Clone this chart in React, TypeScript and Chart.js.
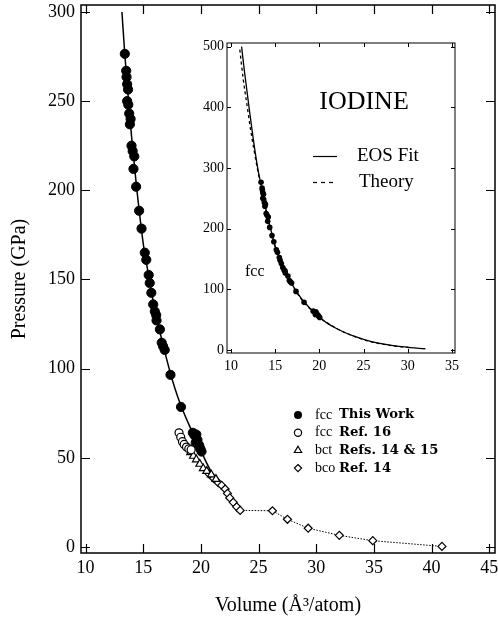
import React, { useEffect, useRef } from 'react';
import { Chart, registerables } from 'chart.js';

Chart.register(...registerables);

const SERIF = '"Liberation Serif", "Times New Roman", serif';
const BOLD_SERIF = '"DejaVu Serif", serif';

// ---- axis ticks ----
const mainXTicks = [10, 15, 20, 25, 30, 35, 40, 45];
const mainYTicks = [0, 50, 100, 150, 200, 250, 300];
const insetXTicks = [10, 15, 20, 25, 30, 35];
const insetYTicks = [0, 100, 200, 300, 400, 500];

// ---- data: [volume (Å^3/atom), pressure (GPa)] ----
const fccThisWork: [number, number][] = [
  [13.4, 276.5], [13.52, 267], [13.55, 263.5], [13.6, 259.5], [13.68, 256.5],
  [13.6, 250], [13.7, 248], [13.78, 243], [13.9, 240], [13.84, 237],
  [13.98, 225], [14.08, 222], [14.22, 219], [14.15, 212], [14.38, 202],
  [14.64, 188.5], [14.85, 178.5], [15.13, 165], [15.26, 161], [15.47, 152.5],
  [15.56, 148], [15.7, 142.5], [15.86, 136], [16.0, 132], [16.12, 130],
  [16.15, 127], [16.44, 122], [16.6, 114.5], [16.72, 112.5], [16.86, 110.5],
  [17.36, 96.5], [18.27, 78.5], [19.3, 64], [19.45, 62.5], [19.6, 63],
  [19.7, 60], [19.55, 58.5], [19.85, 57], [19.95, 55], [20.05, 53.5],
];

const fccRef16: [number, number][] = [
  [18.1, 64], [18.25, 61.5], [18.4, 59], [18.55, 57.5], [18.75, 56], [18.95, 55], [19.15, 54.5],
];

const bctRefs14and15: [number, number][] = [
  [19.1, 53], [19.35, 51], [19.6, 49], [19.9, 46.5], [20.2, 44], [20.5, 42.5], [20.9, 40.5], [21.3, 38],
];

const bcoRef14: [number, number][] = [
  [20.7, 41], [21.1, 38.5], [21.5, 36], [21.8, 34.5], [22.1, 32.5], [22.3, 30], [22.5, 27.5],
  [22.8, 25], [23.1, 22.5], [23.4, 20.5], [26.2, 20.3], [27.5, 15.5], [29.3, 10.5],
  [32.0, 6.5], [34.9, 3.5], [40.9, 0.3],
];

const eosFitMain: [number, number][] = [
  [13.15, 300], [13.4, 276], [13.7, 252], [14.0, 229], [14.4, 203], [15.0, 170],
  [15.5, 151], [16.0, 133], [16.5, 119], [17.0, 106], [17.5, 94], [18.0, 84],
  [18.5, 75.5], [19.0, 68], [19.5, 61], [20.0, 54], [20.5, 47], [21.0, 41],
];

const eosFitInset: [number, number][] = [
  [11.2, 500], [11.5, 462], [12.0, 405], [12.5, 350], [13.0, 302], [13.5, 265],
  [14.0, 229], [14.5, 199], [15.0, 171], [16.0, 133], [17.0, 106], [18.0, 84],
  [19.0, 68], [20.0, 54], [21.0, 43], [22.0, 35], [23.0, 28], [24.0, 22.5],
  [25.0, 17.5], [26.0, 13.5], [27.0, 10.5], [28.0, 8], [29.0, 6], [30.0, 4.5],
  [31.0, 3], [32.0, 2],
];

const theoryInset: [number, number][] = [
  [11.0, 495], [11.4, 445], [11.8, 405], [12.2, 365], [12.6, 330], [13.0, 298],
  [13.5, 262], [14.0, 227], [15.0, 170], [16.0, 132], [17.0, 105], [18.0, 83],
  [19.0, 67], [20.0, 54], [22.0, 35], [24.0, 22], [26.0, 13], [28.0, 7.5], [30.0, 4.2],
];

// ---- legend / labels ----
const legendMarkers = ['filled', 'circle', 'triangle', 'diamond'];
const legendPhases = ['fcc', 'fcc', 'bct', 'bco'];
const legendSources = ['This Work', 'Ref. 16', 'Refs. 14 & 15', 'Ref. 14'];
const insetTitle = 'IODINE';
const insetLegend = ['EOS Fit', 'Theory'];
const insetPhase = 'fcc';

const toPts = (a: [number, number][]) => a.map(([x, y]) => ({ x, y }));

function drawMarker(ctx: CanvasRenderingContext2D, kind: string, x: number, y: number, r: number) {
  ctx.beginPath();
  if (kind === 'filled' || kind === 'circle') {
    ctx.arc(x, y, r, 0, Math.PI * 2);
  } else if (kind === 'triangle') {
    ctx.moveTo(x, y - r);
    ctx.lineTo(x + r * 0.866, y + r * 0.5);
    ctx.lineTo(x - r * 0.866, y + r * 0.5);
    ctx.closePath();
  } else {
    ctx.moveTo(x, y - r);
    ctx.lineTo(x + r, y);
    ctx.lineTo(x, y + r);
    ctx.lineTo(x - r, y);
    ctx.closePath();
  }
  if (kind === 'filled') {
    ctx.fillStyle = '#000';
    ctx.fill();
  } else {
    ctx.fillStyle = '#fff';
    ctx.fill();
    ctx.stroke();
  }
}

function frameTicksPlugin(len: number, frameW: number, tickW: number, bg: boolean) {
  return {
    id: 'frameTicks',
    beforeDatasetsDraw(chart: any) {
      const { ctx, chartArea: a, scales } = chart;
      const xs = scales.x;
      const ys = scales.y;
      ctx.save();
      if (bg) {
        ctx.fillStyle = '#fff';
        ctx.fillRect(a.left, a.top, a.right - a.left, a.bottom - a.top);
      }
      ctx.strokeStyle = '#000';
      ctx.lineWidth = tickW;
      ctx.beginPath();
      xs.ticks.forEach((t: any) => {
        const px = Math.round(xs.getPixelForValue(t.value)) + 0.5;
        ctx.moveTo(px, a.bottom);
        ctx.lineTo(px, a.bottom - len);
        ctx.moveTo(px, a.top);
        ctx.lineTo(px, a.top + len);
      });
      ys.ticks.forEach((t: any) => {
        const py = Math.round(ys.getPixelForValue(t.value)) + 0.5;
        ctx.moveTo(a.left, py);
        ctx.lineTo(a.left + len, py);
        ctx.moveTo(a.right, py);
        ctx.lineTo(a.right - len, py);
      });
      ctx.stroke();
      ctx.lineWidth = frameW;
      ctx.strokeRect(a.left, a.top, a.right - a.left, a.bottom - a.top);
      ctx.restore();
    },
  };
}

const mainLegendPlugin = {
  id: 'mainLegend',
  afterDraw(chart: any) {
    const { ctx } = chart;
    ctx.save();
    ctx.lineWidth = 1.2;
    ctx.strokeStyle = '#000';
    legendPhases.forEach((ph, i) => {
      const y = 415 + i * 17.7;
      drawMarker(ctx, legendMarkers[i], 298, y, i === 0 ? 4 : i === 2 ? 4.2 : 3.6);
      ctx.fillStyle = '#000';
      ctx.textBaseline = 'middle';
      ctx.textAlign = 'left';
      ctx.font = `14px ${SERIF}`;
      ctx.fillText(ph, 315, y);
      ctx.font = `bold 13.2px ${BOLD_SERIF}`;
      ctx.fillText(legendSources[i], 339, y);
    });
    ctx.restore();
  },
};

const insetTextPlugin = {
  id: 'insetText',
  afterDraw(chart: any) {
    const { ctx } = chart;
    ctx.save();
    ctx.fillStyle = '#000';
    ctx.strokeStyle = '#000';
    ctx.textBaseline = 'middle';
    ctx.textAlign = 'center';
    ctx.font = `26px ${SERIF}`;
    ctx.fillText(insetTitle, 177, 69);
    ctx.textAlign = 'left';
    ctx.font = `19px ${SERIF}`;
    ctx.lineWidth = 1.2;
    ctx.beginPath();
    ctx.moveTo(126, 123.5);
    ctx.lineTo(150, 123.5);
    ctx.stroke();
    ctx.fillText(insetLegend[0], 170, 123);
    ctx.setLineDash([4, 4]);
    ctx.beginPath();
    ctx.moveTo(126, 149.5);
    ctx.lineTo(150, 149.5);
    ctx.stroke();
    ctx.setLineDash([]);
    ctx.fillText(insetLegend[1], 172, 149);
    ctx.font = `16px ${SERIF}`;
    ctx.fillText(insetPhase, 58, 239);
    ctx.restore();
  },
};

export default function App() {
  const mainRef = useRef<HTMLCanvasElement>(null);
  const insetRef = useRef<HTMLCanvasElement>(null);

  useEffect(() => {
    Chart.defaults.font.family = SERIF;
    Chart.defaults.color = '#000';

    const main = new Chart(mainRef.current as HTMLCanvasElement, {
      type: 'scatter',
      data: {
        datasets: [
          {
            label: 'fcc This Work',
            data: toPts(fccThisWork),
            pointStyle: 'circle',
            pointRadius: 4.6,
            pointBackgroundColor: '#000',
            pointBorderColor: '#000',
            pointBorderWidth: 1,
          },
          {
            label: 'fcc Ref. 16',
            data: toPts(fccRef16),
            pointStyle: 'circle',
            pointRadius: 4,
            pointBackgroundColor: '#fff',
            pointBorderColor: '#000',
            pointBorderWidth: 1.2,
          },
          {
            label: 'bct Refs. 14 & 15',
            data: toPts(bctRefs14and15),
            pointStyle: 'triangle',
            pointRadius: 4.5,
            pointBackgroundColor: '#fff',
            pointBorderColor: '#000',
            pointBorderWidth: 1.2,
          },
          {
            label: 'bco Ref. 14',
            data: toPts(bcoRef14),
            showLine: true,
            borderColor: '#000',
            borderWidth: 1,
            borderDash: [1.5, 1.5],
            pointStyle: 'rectRot',
            pointRadius: 4,
            pointBackgroundColor: '#fff',
            pointBorderColor: '#000',
            pointBorderWidth: 1.2,
          },
          {
            label: 'EOS fit',
            data: toPts(eosFitMain),
            showLine: true,
            borderColor: '#000',
            borderWidth: 1.5,
            pointRadius: 0,
            cubicInterpolationMode: 'monotone',
          },
        ],
      } as any,
      options: {
        responsive: false,
        animation: false,
        events: [],
        layout: { padding: { top: 5, right: 3, left: 0, bottom: 0 }, autoPadding: false },
        plugins: { legend: { display: false }, tooltip: { enabled: false } },
        scales: {
          x: {
            type: 'linear',
            min: 9.6,
            max: 45.5,
            grid: { display: false, drawTicks: false },
            border: { display: false },
            afterBuildTicks: (s: any) => {
              s.ticks = mainXTicks.map((v) => ({ value: v }));
            },
            afterFit: (s: any) => {
              s.height = 70;
              s.paddingLeft = 0;
              s.paddingRight = 0;
            },
            ticks: { font: { family: SERIF, size: 18 }, color: '#000', padding: 4, maxRotation: 0, autoSkip: false },
            title: {
              display: true,
              text: 'Volume (Å³/atom)',
              font: { family: SERIF, size: 20 },
              color: '#000',
              padding: { top: 0, bottom: 5 },
            },
          },
          y: {
            type: 'linear',
            min: -3.4,
            max: 303.9,
            grid: { display: false, drawTicks: false },
            border: { display: false },
            afterBuildTicks: (s: any) => {
              s.ticks = mainYTicks.map((v) => ({ value: v }));
            },
            afterFit: (s: any) => {
              s.width = 81;
              s.paddingTop = 0;
              s.paddingBottom = 0;
            },
            ticks: { font: { family: SERIF, size: 18 }, color: '#000', padding: 6, autoSkip: false },
            title: {
              display: true,
              text: 'Pressure (GPa)',
              font: { family: SERIF, size: 20 },
              color: '#000',
              padding: { top: 8, bottom: 0 },
            },
          },
        },
      } as any,
      plugins: [frameTicksPlugin(9, 1.5, 1.2, false), mainLegendPlugin],
    });

    const inset = new Chart(insetRef.current as HTMLCanvasElement, {
      type: 'scatter',
      data: {
        datasets: [
          {
            label: 'fcc',
            data: toPts(fccThisWork),
            pointStyle: 'circle',
            pointRadius: 2.8,
            pointBackgroundColor: '#000',
            pointBorderColor: '#000',
            pointBorderWidth: 0,
          },
          {
            label: 'EOS Fit',
            data: toPts(eosFitInset),
            showLine: true,
            borderColor: '#000',
            borderWidth: 1.3,
            pointRadius: 0,
            cubicInterpolationMode: 'monotone',
          },
          {
            label: 'Theory',
            data: toPts(theoryInset),
            showLine: true,
            borderColor: '#000',
            borderWidth: 1.3,
            borderDash: [3, 3],
            pointRadius: 0,
            cubicInterpolationMode: 'monotone',
          },
        ],
      } as any,
      options: {
        responsive: false,
        animation: false,
        events: [],
        layout: { padding: { top: 10, right: 12, left: 0, bottom: 0 }, autoPadding: false },
        plugins: { legend: { display: false }, tooltip: { enabled: false } },
        scales: {
          x: {
            type: 'linear',
            min: 9.55,
            max: 35.35,
            grid: { display: false, drawTicks: false },
            border: { display: false },
            afterBuildTicks: (s: any) => {
              s.ticks = insetXTicks.map((v) => ({ value: v }));
            },
            afterFit: (s: any) => {
              s.height = 25;
              s.paddingLeft = 0;
              s.paddingRight = 0;
            },
            ticks: { font: { family: SERIF, size: 14 }, color: '#000', padding: 5, maxRotation: 0, autoSkip: false },
          },
          y: {
            type: 'linear',
            min: -5,
            max: 506,
            grid: { display: false, drawTicks: false },
            border: { display: false },
            afterBuildTicks: (s: any) => {
              s.ticks = insetYTicks.map((v) => ({ value: v }));
            },
            afterFit: (s: any) => {
              s.width = 40;
              s.paddingTop = 0;
              s.paddingBottom = 0;
            },
            ticks: { font: { family: SERIF, size: 14 }, color: '#000', padding: 3, autoSkip: false },
          },
        },
      } as any,
      plugins: [frameTicksPlugin(4, 1, 1, true), insetTextPlugin],
    });

    return () => {
      main.destroy();
      inset.destroy();
    };
  }, []);

  return (
    <div style={{ position: 'absolute', left: 0, top: 0, width: 498, height: 623, background: '#fff' }}>
      <canvas ref={mainRef} width={498} height={623} style={{ position: 'absolute', left: 0, top: 0 }} />
      <canvas ref={insetRef} width={280} height={345} style={{ position: 'absolute', left: 187, top: 33 }} />
    </div>
  );
}
